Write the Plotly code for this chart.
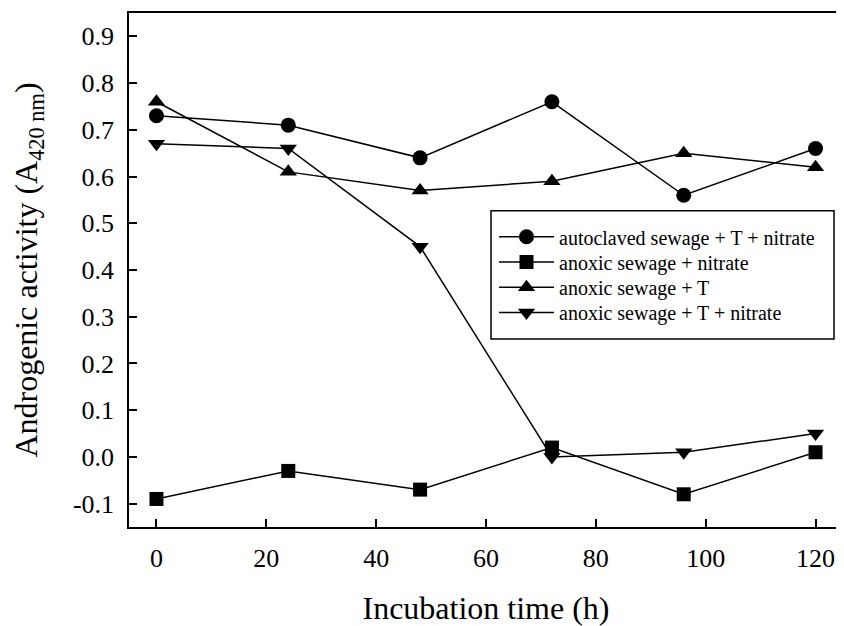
import plotly.graph_objects as go

hours = [0, 24, 48, 72, 96, 120]
autoclaved_T_nitrate = [0.73, 0.71, 0.64, 0.76, 0.56, 0.66]
anoxic_nitrate = [-0.09, -0.03, -0.07, 0.02, -0.08, 0.01]
anoxic_T = [0.76, 0.61, 0.57, 0.59, 0.65, 0.62]
anoxic_T_nitrate = [0.67, 0.66, 0.45, 0.00, 0.01, 0.05]

series_names = [
    "autoclaved sewage + T + nitrate",
    "anoxic sewage + nitrate",
    "anoxic sewage + T",
    "anoxic sewage + T + nitrate",
]
series_values = [autoclaved_T_nitrate, anoxic_nitrate, anoxic_T, anoxic_T_nitrate]
symbols = ["circle", "square", "triangle-up", "triangle-down"]
sizes = [15, 14, 15, 15]

x_ticks = [0, 20, 40, 60, 80, 100, 120]
y_ticks = [-0.1, 0.0, 0.1, 0.2, 0.3, 0.4, 0.5, 0.6, 0.7, 0.8, 0.9]

FONT = "Liberation Serif, Times New Roman, serif"

# the page body has an 8px margin: figure is sized/offset to compensate
W, H = 836, 618
L, R, T, B = 121, 1, 5, 99
plot_w = W - L - R
plot_h = H - T - B

def px_x(px):  # window px -> paper x
    return (px - 8 - L) / plot_w

def px_y(py):  # window px -> paper y
    return (H - B - (py - 8)) / plot_h

legend_rows = [236.7, 262.0, 287.3, 312.6]
legend_keys = ["legend", "legend2", "legend3", "legend4"]

fig = go.Figure()
for name, vals, sym, sz, lk in zip(series_names, series_values, symbols, sizes, legend_keys):
    fig.add_trace(go.Scatter(
        x=hours, y=vals, name=name, mode="lines+markers",
        line=dict(color="black", width=1.5),
        marker=dict(symbol=sym, size=sz, color="black"),
        legend=lk,
    ))

legend_common = dict(
    xanchor="left", yanchor="middle",
    bgcolor="rgba(0,0,0,0)", borderwidth=0,
    font=dict(size=20, family=FONT, color="black"),
    itemwidth=55,
)
layout_legends = {}
for lk, row in zip(legend_keys, legend_rows):
    layout_legends[lk] = dict(x=px_x(494), y=px_y(row), **legend_common)

fig.update_layout(
    width=W, height=H,
    margin=dict(l=L, r=R, t=T, b=B, autoexpand=False),
    paper_bgcolor="white", plot_bgcolor="white",
    font=dict(family=FONT, color="black"),
    showlegend=True,
    shapes=[dict(
        type="rect", xref="paper", yref="paper",
        x0=px_x(491), x1=px_x(834), y0=px_y(339), y1=px_y(210.7),
        line=dict(color="black", width=1.5), fillcolor="white", layer="above",
    )],
    **layout_legends,
)
fig.update_xaxes(
    range=[-5, 125], tickvals=x_ticks, ticktext=[str(v) for v in x_ticks],
    ticks="inside", ticklen=8, tickwidth=1.5, tickcolor="black",
    showline=True, linecolor="black", linewidth=1.5, mirror=True,
    showgrid=False, zeroline=False,
    tickfont=dict(size=26, family=FONT, color="black"),
    ticklabelstandoff=7,
    title=dict(text="Incubation time (h)", font=dict(size=32, family=FONT, color="black"), standoff=32),
)
fig.update_yaxes(
    range=[-0.15, 0.95], tickvals=y_ticks, ticktext=[f"{v:.1f}" for v in y_ticks],
    ticks="inside", ticklen=8, tickwidth=1.5, tickcolor="black",
    showline=True, linecolor="black", linewidth=1.5, mirror=True,
    showgrid=False, zeroline=False,
    tickfont=dict(size=26, family=FONT, color="black"),
    ticklabelstandoff=8,
    title=dict(text="Androgenic activity (A<sub>420 nm</sub>)",
               font=dict(size=32, family=FONT, color="black"), standoff=27),
)

fig.write_html("out.html")
